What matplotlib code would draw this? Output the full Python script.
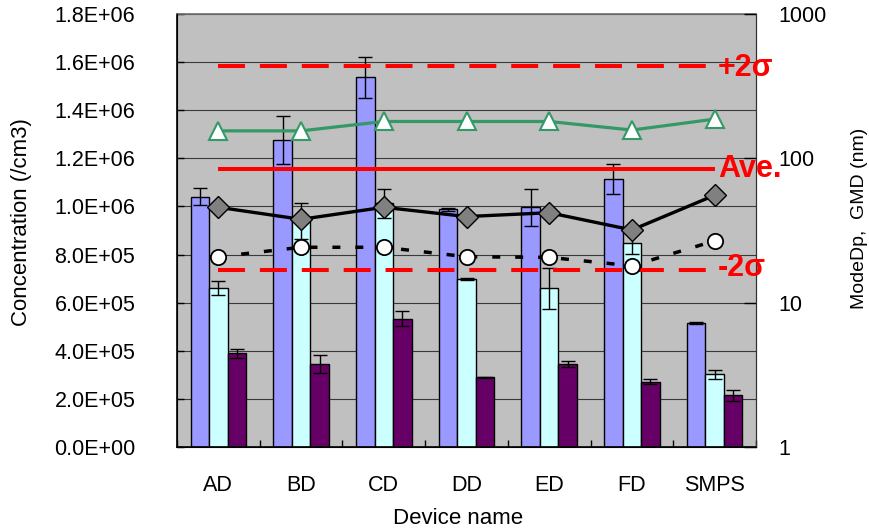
import matplotlib
matplotlib.use("Agg")
import matplotlib.pyplot as plt
import numpy as np
from matplotlib.ticker import FixedLocator, FixedFormatter, NullLocator

plt.rcParams['font.family'] = ['Liberation Sans', 'DejaVu Sans']

devices = ['AD', 'BD', 'CD', 'DD', 'ED', 'FD', 'SMPS']

conc_total = [1.040e6, 1.275e6, 1.537e6, 0.988e6, 0.996e6, 1.114e6, 0.517e6]
conc_total_err = [3.6e4, 1.0e5, 8.5e4, 6e3, 7.6e4, 6.2e4, 4e3]
conc_mid = [0.660e6, 0.940e6, 1.013e6, 0.698e6, 0.660e6, 0.847e6, 0.302e6]
conc_mid_err = [2.9e4, 7.5e4, 6.0e4, 3e3, 8.5e4, 4.5e4, 1.9e4]
conc_low = [0.389e6, 0.345e6, 0.533e6, 0.290e6, 0.345e6, 0.272e6, 0.215e6]
conc_low_err = [2.0e4, 3.6e4, 3.2e4, 2e3, 1.2e4, 1.2e4, 2.3e4]

size_triangle = [155, 155, 180, 180, 180, 157, 187]
size_diamond = [45.8, 37.8, 45.8, 39.5, 42.0, 31.9, 55.5]
size_circle = [20.8, 24.2, 24.2, 20.8, 20.6, 18.0, 26.8]

ref_labels = ['+2σ', 'Ave.', '-2σ']
ref_values = [1.585e6, 1.157e6, 0.736e6]

left_ticks = [0, 2e5, 4e5, 6e5, 8e5, 1.0e6, 1.2e6, 1.4e6, 1.6e6, 1.8e6]
right_ticks = [1, 10, 100, 1000]
right_tick_labels = ['1', '10', '100', '1000']

W, H = 869, 531
fig = plt.figure(figsize=(W / 100, H / 100), dpi=100)
L, R, T, B = 177, 756, 14, 447
ax = fig.add_axes([L / W, 1 - B / H, (R - L) / W, (B - T) / H])
ax.set_facecolor('#C0C0C0')

x = np.arange(len(devices))
bw = 0.224
err_kw = dict(ecolor='black', elinewidth=1.0, capsize=5, capthick=1.0)
ax.bar(x - bw, conc_total, bw, yerr=conc_total_err, color='#9999FF',
       edgecolor='black', linewidth=1.0, error_kw=err_kw, zorder=2)
ax.bar(x, conc_mid, bw, yerr=conc_mid_err, color='#CCFFFF',
       edgecolor='black', linewidth=1.0, error_kw=err_kw, zorder=2)
ax.bar(x + bw, conc_low, bw, yerr=conc_low_err, color='#660066',
       edgecolor='black', linewidth=1.0, error_kw=err_kw, zorder=2)

ax.set_xlim(-0.5, len(devices) - 0.5)
ax.set_ylim(0, 1.8e6)
ax.yaxis.set_major_locator(FixedLocator(left_ticks))
ax.yaxis.set_major_formatter(FixedFormatter(['{:.1E}'.format(v) for v in left_ticks]))
ax.yaxis.grid(True, color='#3a3a3a', linewidth=0.8)
ax.set_axisbelow(True)

# x ticks: marks at category boundaries, labels at centers
ax.xaxis.set_major_locator(FixedLocator(np.arange(len(devices) + 1) - 0.5))
ax.xaxis.set_major_formatter(FixedFormatter([''] * (len(devices) + 1)))
ax.xaxis.set_minor_locator(FixedLocator(x))
ax.xaxis.set_minor_formatter(FixedFormatter(devices))
ax.tick_params(axis='x', which='major', direction='in', length=5, width=1)
ax.tick_params(axis='x', which='minor', length=0, pad=20, labelsize=15.5)
ax.tick_params(axis='y', which='major', direction='in', length=5, width=1,
               pad=30, labelsize=15.5)

for s in ['left', 'bottom']:
    ax.spines[s].set_color('black')
    ax.spines[s].set_linewidth(1.2)
ax.spines['top'].set_color('#707070')
ax.spines['top'].set_linewidth(1.2)
ax.spines['right'].set_color('#303030')

# reference lines
x0, x1 = x[0], x[-1]
dash = (0, (6.7, 3.7))
for lab, v in zip(ref_labels, ref_values):
    ls = '-' if lab == 'Ave.' else dash
    ax.plot([x0, x1], [v, v], color='#FF0000', linewidth=2.9, linestyle=ls,
            zorder=4, solid_capstyle='butt', dash_capstyle='butt')

# secondary axis
ax2 = ax.twinx()
ax2.set_yscale('log')
ax2.set_ylim(1, 1000)
ax2.yaxis.set_major_locator(FixedLocator(right_ticks))
ax2.yaxis.set_major_formatter(FixedFormatter(right_tick_labels))
ax2.yaxis.set_minor_locator(NullLocator())
ax2.tick_params(axis='y', which='major', direction='in', length=9, width=1,
                pad=16, labelsize=15.5)
ax2.spines['right'].set_color('#303030')
ax2.spines['top'].set_visible(False)

ax2.plot(x, size_triangle, color='#339966', linewidth=2.3, marker='^',
         markersize=13, markerfacecolor='white', markeredgecolor='#339966',
         markeredgewidth=1.5, zorder=5)
ax2.plot(x, size_diamond, color='black', linewidth=2.4, marker='D',
         markersize=11, markerfacecolor='#808080', markeredgecolor='black',
         markeredgewidth=1.0, zorder=5)
ax2.plot(x, size_circle, color='black', linewidth=2.5, linestyle=(0, (2.3, 4.3)),
         marker='o', markersize=11, markerfacecolor='white',
         markeredgecolor='black', markeredgewidth=1.3, zorder=5)

offsets = {'+2σ': -0.1e5, 'Ave.': 0.0, '-2σ': 0.1e5}
for lab, v in zip(ref_labels, ref_values):
    ax2.text(6.04, v + offsets[lab], lab, transform=ax.transData, color='#FF0000',
             fontsize=22, fontweight='bold', ha='left', va='center',
             clip_on=False, zorder=10)

fig.text(22 / W, 1 - 222 / H, 'Concentration (/cm3)', rotation=90,
         ha='center', va='center', fontsize=16)
fig.text(859 / W, 1 - 218 / H, 'ModeDp,  GMD (nm)', rotation=90,
         ha='center', va='center', fontsize=14)
fig.text(458 / W, 1 - 518 / H, 'Device name', ha='center', va='center',
         fontsize=16)

fig.savefig('out.png', dpi=100)
